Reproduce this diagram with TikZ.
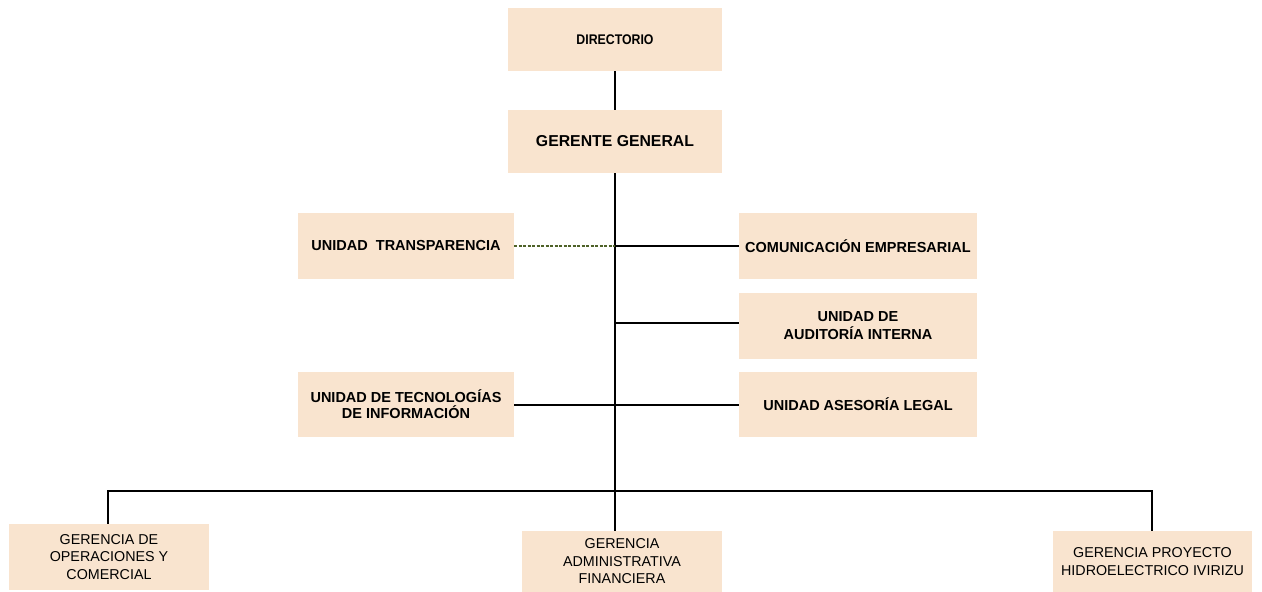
\documentclass[tikz,border=0pt]{standalone}
\usepackage{fontspec}
\setmainfont{Liberation Sans}
\definecolor{boxfill}{HTML}{F9E4CF}
\definecolor{dashgreen}{HTML}{4F6228}
\begin{document}
\begin{tikzpicture}[x=1pt,y=-1pt,
  box/.style={fill=boxfill,draw=none,inner sep=0pt,align=center},
  bt/.style={font=\bfseries\fontsize{14.5}{16}\selectfont},
  nt/.style={font=\fontsize{14.3}{17.5}\selectfont},
  conn/.style={draw=black,line width=1.2pt}]
\useasboundingbox (0,0) rectangle (1262,592);
\node[box,minimum width=214pt,minimum height=63pt,font=\bfseries\fontsize{14}{16}\selectfont] (dir) at (615,39.5) {\addfontfeature{FakeStretch=0.88}DIRECTORIO};
\node[box,minimum width=214pt,minimum height=63pt,font=\bfseries\fontsize{15.8}{18}\selectfont] (gg) at (615,141.5) {GERENTE GENERAL};
\node[box,bt,minimum width=216pt,minimum height=66pt] (ut) at (406,246) {UNIDAD\ \ TRANSPARENCIA};
\node[box,bt,minimum width=238pt,minimum height=66pt] (ce) at (858,246) {COMUNICACIÓN EMPRESARIAL};
\node[box,minimum width=238pt,minimum height=66pt,font=\bfseries\fontsize{14.5}{18}\selectfont] (ai) at (858,326) {UNIDAD DE\\AUDITORÍA INTERNA};
\node[box,bt,minimum width=216pt,minimum height=65pt] (ti) at (406,404.5) {UNIDAD DE TECNOLOGÍAS\\DE INFORMACIÓN};
\node[box,bt,minimum width=238pt,minimum height=65pt] (al) at (858,404.5) {UNIDAD ASESORÍA LEGAL};
\node[box,nt,minimum width=200pt,minimum height=66pt] (go) at (109,557) {GERENCIA DE\\OPERACIONES Y\\COMERCIAL};
\node[box,nt,minimum width=200pt,minimum height=61pt] (ga) at (622,561.5) {GERENCIA\\ADMINISTRATIVA\\FINANCIERA};
\node[box,nt,minimum width=199pt,minimum height=61pt] (gp) at (1152.5,561.5) {GERENCIA PROYECTO\\HIDROELECTRICO IVIRIZU};
\coordinate (bus) at (615,491);
\coordinate (tr) at (615,246);
\coordinate (ar) at (615,323);
\coordinate (lr) at (615,405);
\draw[conn] (dir.south) -- (gg.north);
\draw[conn] (gg.south) -- (bus);
\draw[dashgreen,line width=1.3pt,dash pattern=on 3pt off 1.5pt] (ut.east) -- (tr);
\draw[conn] (tr) -- (ce.west);
\draw[conn] (ar) -- (ai.west |- ar);
\draw[conn] (ti.east |- lr) -- (al.west |- lr);
\draw[conn] (go.north -| 108,0) |- (bus) -| (gp.north -| 1152,0);
\draw[conn] (bus) -- (ga.north -| bus);
\end{tikzpicture}
\end{document}
